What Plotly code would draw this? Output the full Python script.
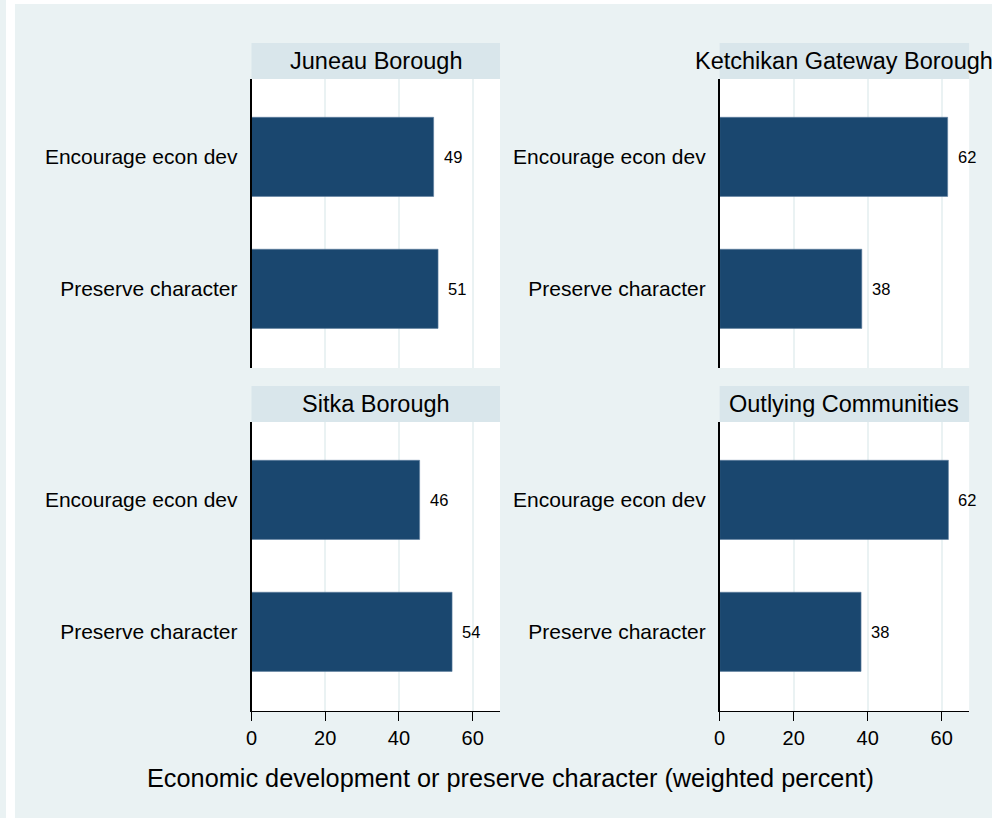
import plotly.graph_objects as go

# ---- data ----
regions = ["Juneau Borough", "Ketchikan Gateway Borough", "Sitka Borough", "Outlying Communities"]
categories = ["Encourage econ dev", "Preserve character"]
encourage = [49.4, 61.6, 45.6, 61.8]
preserve = [50.6, 38.4, 54.4, 38.2]
x_ticks = [0, 20, 40, 60]
x_title = "Economic development or preserve character (weighted percent)"

W, H = 992, 818
FONT = "Liberation Sans, Arial, sans-serif"
BG = "#EAF2F3"
STRIP = "#D9E6EB"
BAR = "#1A476F"

# panel pixel boxes: (x0, x1, y_top, y_bottom)
panels = [
    (247, 497, 79, 368),
    (718, 969, 79, 368),
    (247, 497, 422, 711),
    (718, 969, 422, 711),
]
strip_h = 36


def px(x):
    return x / W


def py(y):
    return 1 - y / H


fig = go.Figure()
shapes = []
annotations = []

for i, (reg, (x0, x1, yt, yb)) in enumerate(zip(regions, panels)):
    n = i + 1
    xa = "x" if n == 1 else f"x{n}"
    ya = "y" if n == 1 else f"y{n}"
    vals = [encourage[i], preserve[i]]
    fig.add_trace(go.Bar(
        x=vals, y=categories, orientation="h",
        xaxis=xa, yaxis=ya, width=0.6,
        marker=dict(color=BAR, line=dict(color="#5F7FA0", width=0.6)),
        showlegend=False, hoverinfo="x+y",
    ))
    for c, v in zip(categories, vals):
        annotations.append(dict(
            x=v, y=c, xref=xa, yref=ya, text=f"{round(v):d}",
            showarrow=False, xanchor="left", yanchor="middle", xshift=8,
            font=dict(family=FONT, size=16.5, color="black"),
        ))
    bottom = n >= 3
    xkey = "xaxis" if n == 1 else f"xaxis{n}"
    ykey = "yaxis" if n == 1 else f"yaxis{n}"
    fig.layout[xkey] = dict(
        domain=[px(x0), px(x1)], anchor=ya, range=[0, 67.4],
        tickvals=x_ticks, showgrid=True, gridcolor=BG, gridwidth=1.5,
        zeroline=False,
        showline=bottom, linecolor="black", linewidth=1.3,
        ticks="outside" if bottom else "", ticklen=9, tickwidth=1.3, tickcolor="black",
        showticklabels=bottom,
        tickfont=dict(family=FONT, size=20, color="black"),
        fixedrange=True,
    )
    fig.layout[ykey] = dict(
        domain=[py(yb), py(yt)], anchor=xa,
        type="category", categoryarray=categories,
        range=[1.6, -0.59], showgrid=False, zeroline=False,
        showline=True, linecolor="black", linewidth=1.5,
        ticks="outside", ticklen=8, tickcolor="rgba(0,0,0,0)",
        tickfont=dict(family=FONT, size=21, color="black"),
        fixedrange=True,
    )
    # strip
    shapes.append(dict(type="rect", xref="paper", yref="paper",
                       x0=px(x0), x1=px(x1), y0=py(yt), y1=py(yt - strip_h),
                       fillcolor=STRIP, line=dict(width=0), layer="below"))
    annotations.append(dict(
        x=px((x0 + x1) / 2), y=py(yt - strip_h / 2), xref="paper", yref="paper",
        text=reg, showarrow=False, xanchor="center", yanchor="middle",
        font=dict(family=FONT, size=23.5, color="black"),
    ))

# x-axis title
annotations.append(dict(
    x=px(508), y=py(778), xref="paper", yref="paper", text=x_title,
    showarrow=False, xanchor="center", yanchor="middle",
    font=dict(family=FONT, size=25.3, color="black"),
))

# thin white border at the left and top (as in the reference image)
shapes.append(dict(type="rect", xref="paper", yref="paper", x0=0, x1=px(9), y0=0, y1=1,
                   fillcolor="white", line=dict(width=0), layer="above"))
shapes.append(dict(type="rect", xref="paper", yref="paper", x0=0, x1=1, y0=py(4), y1=1,
                   fillcolor="white", line=dict(width=0), layer="above"))

fig.update_layout(
    width=W, height=H, margin=dict(l=0, r=0, t=0, b=0),
    paper_bgcolor=BG, plot_bgcolor="white",
    shapes=shapes, annotations=annotations,
    font=dict(family=FONT, color="black"),
    bargap=0.4,
)

fig.write_html(
    "out.html",
    config={"displayModeBar": False},
    post_script=(
        "document.body.style.margin='0';"
        "document.documentElement.style.overflow='hidden';"
        "document.body.style.overflow='hidden';"
    ),
)
